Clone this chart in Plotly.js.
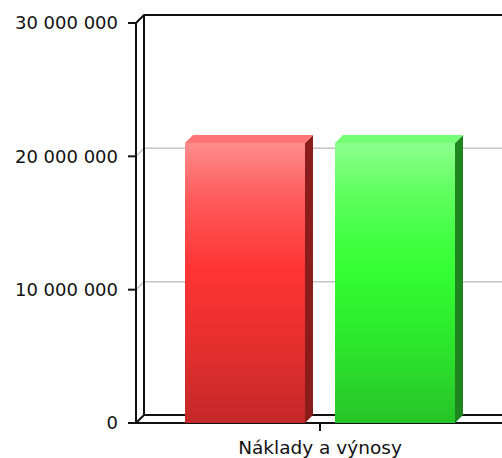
<!DOCTYPE html>
<html>
<head>
<meta charset="utf-8">
<script src="https://cdn.plot.ly/plotly-3.0.1.min.js"></script>
<style>html,body{margin:0;padding:0;background:#fff;}#chart{width:502px;height:458px;}</style>
</head>
<body>
<div id="chart"></div>
<script>
// ---- data ----
const categories = ['Náklady a výnosy'];
const seriesNames = ['Náklady', 'Výnosy'];
const seriesValues = [21000000, 21000000];
const yTickVals = [0, 10000000, 20000000, 30000000];
const yTickText = ['0', '10 000 000', '20 000 000', '30 000 000'];

// ---- styles ----
const frontScales = [
  [[0,'#c42828'],[0.25,'#e22e2e'],[0.55,'#ff3434'],[0.8,'#ff5a5a'],[1,'#ff8c8c']],
  [[0,'#26c426'],[0.25,'#2ce22c'],[0.55,'#33ff33'],[0.8,'#5aff5a'],[1,'#8cff8c']]
];
const topColors = ['#ff7474', '#74ff74'];
const sideColors = ['#8a1c1c', '#1f861f'];

// ---- geometry (pixel based layout) ----
const W = 502, H = 458;
const pxPerUnitX = 366;            // x data units: one category = 366px
const pxPer10M = 133.333;          // y scale
const catPx = 320, zeroPx = 423;
const plotL = 126, plotR = 502, plotT = 12, plotB = 434;
const xOf = px => (px - catPx) / pxPerUnitX;
const yOf = py => (zeroPx - py) * 10000000 / pxPer10M;
const xRange = [xOf(plotL), xOf(plotR)];
const yRange = [yOf(plotB), yOf(plotT)];
const depthPx = 8;
const dx = depthPx / pxPerUnitX;
const dy = depthPx * 10000000 / pxPer10M;
const xFront = xOf(136);
const xTickStart = xOf(128);
const xRight = xRange[1];
const barWidth = 120 / pxPerUnitX;
const barGap = 30 / pxPerUnitX;

const traces = [];
const lineTrace = (xs, ys, color, width) => ({
  type: 'scatter', mode: 'lines', x: xs, y: ys,
  line: {color: color, width: width}, hoverinfo: 'skip', showlegend: false
});

// back-wall grid lines
yTickVals.forEach(v => {
  if (v === 0 || v === yTickVals[yTickVals.length - 1]) return;
  traces.push(lineTrace([xFront, xFront + dx, xRight], [v, v + dy, v + dy], '#c4c4c4', 1.5));
});
const yTop = yTickVals[yTickVals.length - 1];
// top border of back wall
traces.push(lineTrace([xFront, xFront + dx, xRight], [yTop, yTop + dy, yTop + dy], '#111', 2));
// back wall left edge
traces.push(lineTrace([xFront + dx, xFront + dx], [dy, yTop + dy], '#111', 2));
// floor back edge
traces.push(lineTrace([xFront, xFront + dx, xRight], [0, dy, dy], '#111', 2));
// front axis line
traces.push(lineTrace([xFront, xFront], [0, yTop], '#111', 2));
// front floor line
traces.push(lineTrace([xFront, xRight], [0, 0], '#111', 2));
// y ticks
yTickVals.forEach(v => {
  traces.push(lineTrace([xTickStart, xFront], [v, v], '#111', 2));
});
// x tick
categories.forEach((c, i) => {
  traces.push(lineTrace([i, i], [0, -dy], '#111', 2));
});

// bars
const groupStart = -(seriesValues.length * barWidth + (seriesValues.length - 1) * barGap) / 2;
seriesValues.forEach((v, i) => {
  const x0 = groupStart + i * (barWidth + barGap);
  const x1 = x0 + barWidth;
  // side face
  traces.push({
    type: 'scatter', mode: 'lines', fill: 'toself',
    x: [x1, x1 + dx, x1 + dx, x1, x1], y: [0, dy, v + dy, v, 0],
    fillcolor: sideColors[i], line: {width: 0, color: sideColors[i]},
    hoverinfo: 'skip', showlegend: false
  });
  // top face
  traces.push({
    type: 'scatter', mode: 'lines', fill: 'toself',
    x: [x0, x1, x1 + dx, x0 + dx, x0], y: [v, v, v + dy, v + dy, v],
    fillcolor: topColors[i], line: {width: 0, color: topColors[i]},
    hoverinfo: 'skip', showlegend: false
  });
  // front face
  traces.push({
    type: 'scatter', mode: 'lines', fill: 'toself', name: seriesNames[i],
    x: [x0, x1, x1, x0, x0], y: [0, 0, v, v, 0],
    fillgradient: {type: 'vertical', colorscale: frontScales[i]},
    line: {width: 0, color: frontScales[i][2][1]},
    hoverinfo: 'skip', showlegend: false
  });
});

const fontFam = 'DejaVu Sans, Verdana, sans-serif';
const layout = {
  width: W, height: H,
  margin: {l: plotL, r: W - plotR, t: plotT, b: H - plotB, pad: 0},
  paper_bgcolor: '#fff', plot_bgcolor: '#fff',
  showlegend: false, hovermode: false,
  xaxis: {
    range: xRange, tickvals: categories.map((c, i) => i), ticktext: categories,
    ticks: '', showgrid: false, zeroline: false, showline: false, fixedrange: true,
    tickfont: {family: fontFam, size: 18.5, color: '#111'}
  },
  yaxis: {
    range: yRange, tickvals: yTickVals, ticktext: yTickText,
    ticks: '', showgrid: false, zeroline: false, showline: false, fixedrange: true,
    ticklabelstandoff: 7,
    tickfont: {family: fontFam, size: 18, color: '#111'}
  }
};
Plotly.newPlot('chart', traces, layout, {staticPlot: true, displayModeBar: false});
</script>
</body>
</html>
